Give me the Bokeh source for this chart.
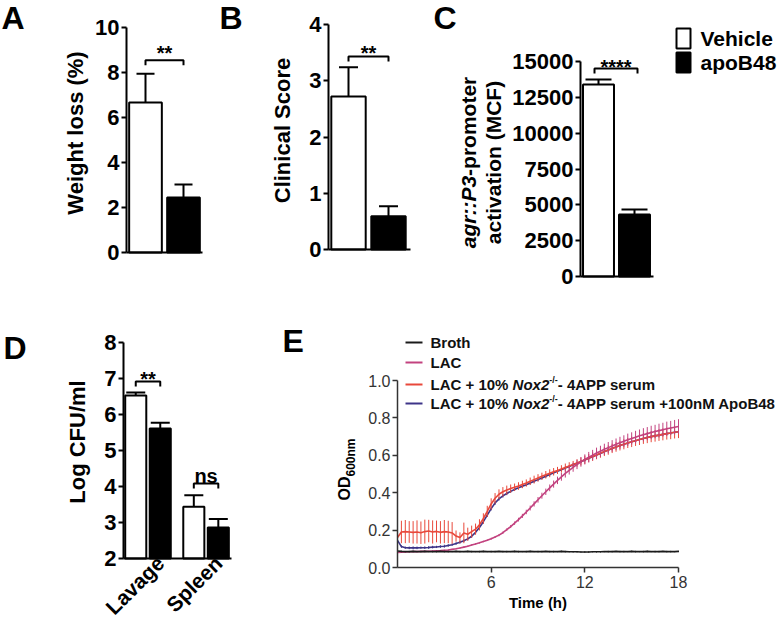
from math import pi
from bokeh.plotting import figure
from bokeh.models import Range1d, Label, FixedTicker, PrintfTickFormatter, LinearAxis
from bokeh.embed import file_html
from bokeh.resources import INLINE

FONT = "Liberation Sans"

# ---------------- data ----------------
groups = ["Vehicle", "apoB48"]
bar_colors = ["white", "black"]

weight_loss = [6.67, 2.44]
weight_loss_err = [1.28, 0.58]
weight_loss_sig = "**"
weight_loss_sig_level = 8.55

clinical_score = [2.72, 0.59]
clinical_score_err = [0.52, 0.18]
clinical_sig = "**"
clinical_sig_level = 3.43

agr_activation = [13395, 4326]
agr_activation_err = [350, 350]
agr_sig = "****"
agr_sig_level = 14510

sites = ["Lavage", "Spleen"]
cfu_vehicle = [6.53, 3.44]
cfu_vehicle_err = [0.08, 0.32]
cfu_apob48 = [5.61, 2.86]
cfu_apob48_err = [0.16, 0.24]
cfu_sig = ["**", "ns"]
cfu_sig_level = [6.92, 4.08]

# growth curves, sampled every 15 min from 0 to 18 h
time_h = [i * 0.25 for i in range(73)]
broth = [0.088, 0.086, 0.085, 0.085, 0.086, 0.085, 0.085, 0.086,
         0.085, 0.085, 0.085, 0.086, 0.085, 0.085, 0.085, 0.086,
         0.085, 0.085, 0.086, 0.085, 0.085, 0.085, 0.086, 0.085,
         0.085, 0.085, 0.086, 0.085, 0.085, 0.085, 0.086, 0.085,
         0.085, 0.085, 0.086, 0.085, 0.085, 0.085, 0.086, 0.085,
         0.085, 0.085, 0.086, 0.085, 0.084, 0.084, 0.084, 0.083,
         0.083, 0.083, 0.084, 0.084, 0.084, 0.085, 0.085, 0.085,
         0.086, 0.085, 0.085, 0.085, 0.086, 0.085, 0.085, 0.085,
         0.086, 0.085, 0.085, 0.085, 0.086, 0.085, 0.085, 0.085,
         0.086]
broth_err = [0.004, 0.004, 0.003, 0.004, 0.004, 0.003, 0.004, 0.004,
             0.003, 0.004, 0.004, 0.003, 0.004, 0.004, 0.003, 0.004,
             0.004, 0.003, 0.004, 0.004, 0.003, 0.004, 0.004, 0.003,
             0.004, 0.004, 0.003, 0.004, 0.004, 0.003, 0.004, 0.004,
             0.003, 0.004, 0.004, 0.003, 0.004, 0.004, 0.003, 0.004,
             0.004, 0.003, 0.004, 0.004, 0.003, 0.004, 0.004, 0.003,
             0.004, 0.004, 0.003, 0.004, 0.004, 0.003, 0.004, 0.004,
             0.003, 0.004, 0.004, 0.003, 0.004, 0.004, 0.003, 0.004,
             0.004, 0.003, 0.004, 0.004, 0.003, 0.004, 0.004, 0.003,
             0.004]
lac = [0.080, 0.082, 0.083, 0.084, 0.085, 0.085, 0.086, 0.086,
       0.087, 0.088, 0.089, 0.090, 0.092, 0.094, 0.097, 0.100,
       0.104, 0.109, 0.114, 0.120, 0.126, 0.132, 0.139, 0.146,
       0.154, 0.163, 0.173, 0.186, 0.202, 0.219, 0.237, 0.256,
       0.276, 0.297, 0.318, 0.340, 0.362, 0.384, 0.405, 0.426,
       0.446, 0.466, 0.485, 0.503, 0.520, 0.536, 0.551, 0.565,
       0.578, 0.590, 0.601, 0.612, 0.622, 0.632, 0.641, 0.650,
       0.659, 0.667, 0.675, 0.683, 0.690, 0.697, 0.704, 0.710,
       0.716, 0.722, 0.727, 0.732, 0.737, 0.742, 0.746, 0.750,
       0.754]
lac_err = [0.003, 0.003, 0.003, 0.003, 0.003, 0.003, 0.003, 0.003,
           0.003, 0.003, 0.003, 0.003, 0.003, 0.003, 0.003, 0.003,
           0.004, 0.004, 0.004, 0.004, 0.004, 0.004, 0.004, 0.004,
           0.005, 0.005, 0.006, 0.006, 0.007, 0.008, 0.009, 0.010,
           0.011, 0.012, 0.013, 0.014, 0.015, 0.016, 0.017, 0.018,
           0.019, 0.020, 0.021, 0.022, 0.023, 0.024, 0.025, 0.026,
           0.027, 0.028, 0.028, 0.029, 0.029, 0.030, 0.030, 0.031,
           0.031, 0.032, 0.032, 0.033, 0.033, 0.034, 0.034, 0.035,
           0.035, 0.036, 0.036, 0.037, 0.037, 0.038, 0.038, 0.039,
           0.039]
serum = [0.160, 0.190, 0.192, 0.190, 0.188, 0.190, 0.186, 0.192,
         0.195, 0.190, 0.193, 0.188, 0.192, 0.190, 0.185, 0.168,
         0.160, 0.185, 0.178, 0.192, 0.205, 0.228, 0.262, 0.300,
         0.340, 0.370, 0.392, 0.405, 0.414, 0.422, 0.429, 0.436,
         0.444, 0.452, 0.461, 0.470, 0.479, 0.488, 0.496, 0.504,
         0.512, 0.519, 0.527, 0.535, 0.543, 0.551, 0.559, 0.567,
         0.576, 0.585, 0.593, 0.602, 0.611, 0.620, 0.628, 0.637,
         0.645, 0.652, 0.659, 0.666, 0.672, 0.678, 0.684, 0.690,
         0.695, 0.700, 0.704, 0.708, 0.712, 0.716, 0.719, 0.723,
         0.726]
serum_err = [0.020, 0.060, 0.062, 0.058, 0.060, 0.062, 0.060, 0.064,
             0.060, 0.062, 0.058, 0.060, 0.062, 0.060, 0.058, 0.030,
             0.028, 0.055, 0.035, 0.032, 0.030, 0.030, 0.028, 0.030,
             0.030, 0.028, 0.026, 0.025, 0.024, 0.022, 0.020, 0.020,
             0.020, 0.019, 0.020, 0.021, 0.020, 0.019, 0.020, 0.021,
             0.020, 0.019, 0.020, 0.021, 0.020, 0.019, 0.020, 0.021,
             0.022, 0.022, 0.023, 0.023, 0.024, 0.024, 0.025, 0.025,
             0.026, 0.026, 0.027, 0.027, 0.028, 0.028, 0.029, 0.029,
             0.030, 0.030, 0.031, 0.031, 0.032, 0.032, 0.033, 0.033,
             0.034]
serum_apob48 = [0.145, 0.112, 0.106, 0.105, 0.105, 0.105, 0.106, 0.106,
                0.107, 0.109, 0.110, 0.112, 0.114, 0.118, 0.122, 0.128,
                0.135, 0.143, 0.153, 0.167, 0.188, 0.214, 0.245, 0.280,
                0.315, 0.345, 0.367, 0.383, 0.396, 0.407, 0.417, 0.426,
                0.435, 0.443, 0.452, 0.461, 0.470, 0.479, 0.488, 0.497,
                0.506, 0.515, 0.523, 0.532, 0.540, 0.549, 0.557, 0.566,
                0.575, 0.584, 0.592, 0.601, 0.610, 0.619, 0.628, 0.636,
                0.645, 0.652, 0.659, 0.666, 0.672, 0.678, 0.684, 0.690,
                0.695, 0.700, 0.704, 0.708, 0.712, 0.716, 0.719, 0.723,
                0.726]
serum_apob48_err = [0.008, 0.007, 0.006, 0.007, 0.008, 0.007, 0.006, 0.007,
                    0.008, 0.007, 0.006, 0.007, 0.008, 0.007, 0.006, 0.007,
                    0.008, 0.007, 0.008, 0.008, 0.009, 0.009, 0.010, 0.010,
                    0.010, 0.010, 0.009, 0.009, 0.009, 0.008, 0.008, 0.008,
                    0.008, 0.008, 0.008, 0.008, 0.008, 0.008, 0.008, 0.008,
                    0.008, 0.008, 0.008, 0.008, 0.008, 0.008, 0.008, 0.008,
                    0.008, 0.008, 0.008, 0.008, 0.008, 0.008, 0.008, 0.008,
                    0.008, 0.008, 0.008, 0.008, 0.008, 0.008, 0.008, 0.008,
                    0.008, 0.008, 0.008, 0.008, 0.008, 0.008, 0.008, 0.008,
                    0.008]
curve_names = ["Broth", "LAC", "LAC + 10% Nox2-/- 4APP serum",
               "LAC + 10% Nox2-/- 4APP serum +100nM ApoB48"]
curve_colors = ["#1a1a1a", "#c2427f", "#e8483b", "#3d3488"]

# ---------------- helpers ----------------
PW, PH = 781, 620
W = {' ': 278, '!': 333, '%': 889, '(': 333, ')': 333, '*': 389, '+': 584, '-': 333,
     '.': 278, '/': 278, ':': 333, '0': 556, '1': 556, '2': 556, '3': 556, '4': 556,
     '5': 556, '6': 556, '7': 556, '8': 556, '9': 556, 'A': 722, 'B': 722, 'C': 722,
     'D': 722, 'E': 667, 'F': 611, 'L': 611, 'M': 833, 'N': 722, 'O': 778, 'P': 667,
     'S': 667, 'U': 722, 'V': 667, 'a': 556, 'c': 556, 'e': 556, 'g': 611, 'h': 611,
     'i': 278, 'l': 278, 'm': 889, 'n': 611, 'o': 611, 'p': 611, 'r': 389, 's': 556,
     't': 333, 'u': 611, 'v': 556, 'x': 556}


def tw(s, size):
    return sum(W.get(c, 556) for c in s) * size / 1000.0


# one canvas; the default ranges are page pixels (y downward)
p = figure(width=PW, height=PH, title=None, x_range=Range1d(0, PW), y_range=Range1d(PH, 0),
           x_axis_type=None, y_axis_type=None, output_backend="svg",
           toolbar_location=None, min_border=0)
p.outline_line_color = None

panels = {}
xr_extra, yr_extra = {}, {}


def panel(name, xv0, xp0, xv1, xp1, yv0, yp0, yv1, yp1):
    sx = (xv1 - xv0) / (xp1 - xp0)
    sy = (yv1 - yv0) / (yp1 - yp0)
    xr_extra[name] = Range1d(xv0 - xp0 * sx, xv0 + (PW - xp0) * sx)
    yr_extra[name] = Range1d(yv0 + (PH - yp0) * sy, yv0 - yp0 * sy)
    panels[name] = (xv0, xp0, sx, yv0, yp0, sy)


def to_px(name, x):
    xv0, xp0, sx, yv0, yp0, sy = panels[name]
    return xp0 + (x - xv0) / sx


def to_py(name, y):
    xv0, xp0, sx, yv0, yp0, sy = panels[name]
    return yp0 + (y - yv0) / sy


def px_units(name, n):
    return n * abs(panels[name][2])


def py_units(name, n):
    return n * abs(panels[name][5])


# panel geometry (reference pixel positions of the axes)
panel("A", 0, 126, 1, 164, 0, 252, 10, 27)
panel("B", 0, 328, 1, 368, 0, 249, 4, 24)
panel("C", 0, 580, 1, 616, 0, 276, 15000, 61)
panel("D", 0, 123, 1, 147.5, 2, 558, 8, 342)
panel("E", 0, 397, 18, 678, 0, 567, 1, 380)
p.extra_x_ranges = xr_extra
p.extra_y_ranges = yr_extra


def text(x, y, s, size, style="bold", align="left", baseline="middle",
         angle=0.0, color="black"):
    p.add_layout(Label(x=x, y=y, text=s, text_font=FONT, text_font_size=f"{size}px",
                       text_font_style=style, text_align=align, text_baseline=baseline,
                       angle=angle, text_color=color))


def style_axis(ax, size, style, color, lw, tick_out, standoff=2):
    ax.axis_line_width = lw
    ax.axis_line_color = color
    ax.major_tick_line_width = lw
    ax.major_tick_line_color = color
    ax.major_tick_out = tick_out
    ax.major_tick_in = 0
    ax.minor_tick_line_color = None
    ax.major_label_text_font = FONT
    ax.major_label_text_font_size = size
    ax.major_label_text_font_style = style
    ax.major_label_text_color = color
    ax.major_label_standoff = standoff


def axes(name, x_at, y_at, xbounds, ybounds, xticks, yticks, size="22px", style="bold",
         color="black", lw=2, xstandoff=2):
    ya = LinearAxis(x_range_name=name, y_range_name=name, fixed_location=x_at,
                    bounds=ybounds, ticker=FixedTicker(ticks=yticks))
    style_axis(ya, size, style, color, lw, 5)
    xa = LinearAxis(x_range_name=name, y_range_name=name, fixed_location=y_at,
                    bounds=xbounds, ticker=FixedTicker(ticks=xticks))
    style_axis(xa, size, style, color, lw, 5, xstandoff)
    p.add_layout(ya, "left")
    p.add_layout(xa, "below")
    return xa, ya


def draw_bars(name, xs, vals, errs, colors, width, cap_px, base):
    kw = dict(x_range_name=name, y_range_name=name)
    cap = px_units(name, cap_px)
    tops = [v + e for v, e in zip(vals, errs)]
    p.segment(x0=xs, y0=vals, x1=xs, y1=tops, line_color="black", line_width=2, **kw)
    p.segment(x0=[x - cap for x in xs], y0=tops, x1=[x + cap for x in xs], y1=tops,
              line_color="black", line_width=2, **kw)
    p.vbar(x=xs, top=vals, bottom=base, width=width, fill_color=colors,
           line_color="black", line_width=2, **kw)


def bracket(name, xa, xb, level, label, lift):
    drop = py_units(name, 5)
    p.line(x=[xa, xa, xb, xb], y=[level - drop, level, level, level - drop],
           line_color="black", line_width=2, x_range_name=name, y_range_name=name)
    cx = (to_px(name, xa) + to_px(name, xb)) / 2
    ly = to_py(name, level)
    text(cx, ly - lift, label, 20, align="center")


BAR_W = 0.86
LETTER = 32

# ---------------- A ----------------
axes("A", 0, 0, (0, 2.0), (0, 10), [], [0, 2, 4, 6, 8, 10])
xsA = [i + 0.5 for i in range(len(groups))]
draw_bars("A", xsA, weight_loss, weight_loss_err, bar_colors, BAR_W, 9, 0)
bracket("A", xsA[0], xsA[1], weight_loss_sig_level, weight_loss_sig, 7)
text(1, 17, "A", LETTER)
text(75, 132.5, "Weight loss (%)", 22, align="center", angle=pi / 2)

# ---------------- B ----------------
axes("B", 0, 0, (0, 2.05), (0, 4), [], [0, 1, 2, 3, 4])
xsB = [i + 0.5 for i in range(len(groups))]
draw_bars("B", xsB, clinical_score, clinical_score_err, bar_colors, BAR_W, 9.5, 0)
bracket("B", xsB[0], xsB[1], clinical_sig_level, clinical_sig, 4)
text(219, 17, "B", LETTER)
text(282, 130, "Clinical Score", 22, align="center", angle=pi / 2)

# ---------------- C ----------------
axes("C", 0, 0, (0, 73 / 36), (0, 15000), [], [0, 2500, 5000, 7500, 10000, 12500, 15000])
xsC = [i + 0.5 for i in range(len(groups))]
draw_bars("C", xsC, agr_activation, agr_activation_err, bar_colors, BAR_W, 13, 0)
bracket("C", xsC[0] - px_units("C", 4), xsC[1] + px_units("C", 3), agr_sig_level, agr_sig, 2)
text(433, 17, "C", LETTER)
l1a, l1b = "agr::P3", "-promoter"
tot = tw(l1a, 21) + tw(l1b, 21)
ybot = 162 + tot / 2
text(468, ybot, l1a, 21, style="bold italic", angle=pi / 2)
text(468, ybot - tw(l1a, 21), l1b, 21, angle=pi / 2)
text(493, 162, "activation (MCF)", 21, align="center", angle=pi / 2)
for i, (grp, col) in enumerate(zip(groups, bar_colors)):
    top = 28 + 24 * i
    p.quad(left=676, right=690, top=top, bottom=top + 20, fill_color=col,
           line_color="black", line_width=2)
    text(700, top + 10, grp, 21)

# ---------------- D ----------------
GROUP_STEP = 2.37
xsDv = [gi * GROUP_STEP + 0.5 for gi in range(len(sites))]
xsDa = [gi * GROUP_STEP + 1.5 for gi in range(len(sites))]
# rotated site labels hang from their upper-right end, just right of the group centre
site_ticks = [round((xv + xa_) / 2 + px_units("D", 12.5), 3) for xv, xa_ in zip(xsDv, xsDa)]
xaD, yaD = axes("D", 0, 2, (0, 108 / 24.5), (2, 8), site_ticks, [2, 3, 4, 5, 6, 7, 8])
xaD.major_tick_line_color = None
xaD.major_tick_out = 0
xaD.major_label_standoff = 1
xaD.major_label_text_font_size = "21px"
xaD.major_label_orientation = pi / 4
xaD.major_label_overrides = {t: s for t, s in zip(site_ticks, sites)}
draw_bars("D", xsDv, cfu_vehicle, cfu_vehicle_err, [bar_colors[0]] * len(sites), BAR_W, 9.5, 2)
draw_bars("D", xsDa, cfu_apob48, cfu_apob48_err, [bar_colors[1]] * len(sites), BAR_W, 9.5, 2)
for xv, xa_, lvl, lab in zip(xsDv, xsDa, cfu_sig_level, cfu_sig):
    bracket("D", xv, xa_, lvl, lab, 2 if lab.startswith("*") else 8)
text(3, 347, "D", LETTER)
text(77, 441.5, "Log CFU/ml", 22, align="center", angle=pi / 2)

# ---------------- E ----------------
xaE, yaE = axes("E", 0, 0, (0, 18), (0, 1.0), [6, 12, 18], [0, 0.2, 0.4, 0.6, 0.8, 1.0],
                size="16px", style="normal", color="#333333", lw=1.5, xstandoff=3)
yaE.formatter = PrintfTickFormatter(format="%.1f")

series = [(broth, broth_err), (lac, lac_err), (serum, serum_err),
          (serum_apob48, serum_apob48_err)]
for k in [3, 2, 1, 0]:
    vals, errs = series[k]
    col = curve_colors[k]
    p.segment(x0=time_h, y0=[v - e for v, e in zip(vals, errs)],
              x1=time_h, y1=[v + e for v, e in zip(vals, errs)],
              line_color=col, line_width=1, x_range_name="E", y_range_name="E")
    p.line(time_h, vals, line_color=col, line_width=1.6, x_range_name="E", y_range_name="E")

text(282, 340, "E", LETTER)
text(537.5, 602, "Time (h)", 15, align="center")
text(343.5, 500, "OD", 16, angle=pi / 2)
text(350, 500 - tw("OD", 16), "600nm", 12, angle=pi / 2)

rows_y = [342, 362, 384, 403]
for k, ry in enumerate(rows_y):
    p.segment(x0=[405], y0=[ry], x1=[422], y1=[ry], line_color=curve_colors[k], line_width=2)

LEG = 15
text(430, rows_y[0], curve_names[0], LEG, color="#111111")
text(430, rows_y[1], curve_names[1], LEG, color="#111111")


def rich(x0, yc, pieces):
    x = x0
    for s, size, style, rise in pieces:
        text(x, yc - rise, s, size, style=style, color="#111111")
        x += tw(s, size)


common = [("LAC + 10% ", LEG, "bold", 0), ("Nox2", LEG, "bold italic", 0),
          ("-/-", 9, "bold", 5)]
rich(430, rows_y[2], common + [("- 4APP serum", LEG, "bold", 0)])
rich(430, rows_y[3], common + [("- 4APP serum +100nM ApoB48", LEG, "bold", 0)])

open("out.html", "w").write(file_html(p, INLINE, "figure"))
